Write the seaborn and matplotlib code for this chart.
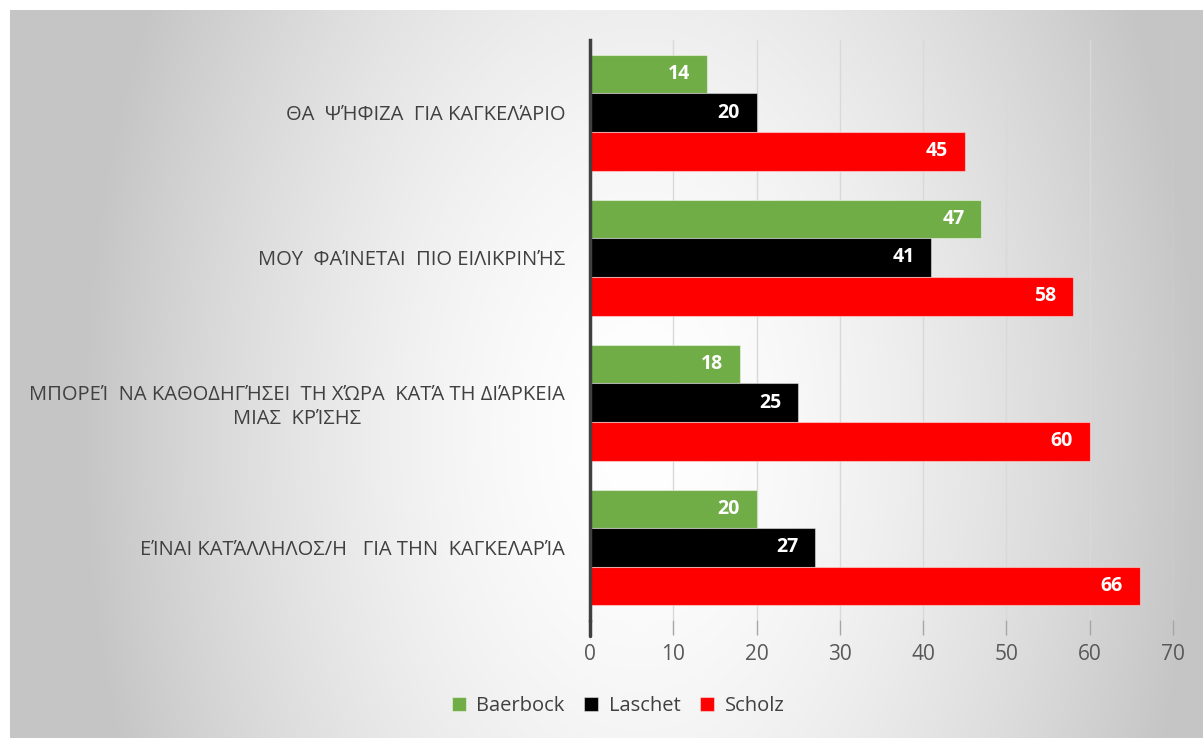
import numpy as np
import pandas as pd
import matplotlib
matplotlib.use("Agg")
import matplotlib.pyplot as plt
import seaborn as sns

categories = [
    "ΘΑ  ΨΉΦΙΖΑ  ΓΙΑ ΚΑΓΚΕΛΆΡΙΟ",
    "ΜΟΥ  ΦΑΊΝΕΤΑΙ  ΠΙΟ ΕΙΛΙΚΡΙΝΉΣ",
    "ΜΠΟΡΕΊ  ΝΑ ΚΑΘΟΔΗΓΉΣΕΙ  ΤΗ ΧΏΡΑ  ΚΑΤΆ ΤΗ ΔΙΆΡΚΕΙΑ\nΜΙΑΣ  ΚΡΊΣΗΣ",
    "ΕΊΝΑΙ ΚΑΤΆΛΛΗΛΟΣ/Η   ΓΙΑ ΤΗΝ  ΚΑΓΚΕΛΑΡΊΑ",
]
candidates = ["Baerbock", "Laschet", "Scholz"]
baerbock = [14, 47, 18, 20]
laschet = [20, 41, 25, 27]
scholz = [45, 58, 60, 66]
x_ticks = [0, 10, 20, 30, 40, 50, 60, 70]
colors = ["#70AD47", "#000000", "#FF0000"]

rows = []
for name, vals in zip(candidates, [baerbock, laschet, scholz]):
    for c, v in zip(categories, vals):
        rows.append({"cat": c, "val": v, "cand": name})
df = pd.DataFrame(rows)

sns.set_theme(style="white")
plt.rcParams["font.family"] = ["Open Sans", "DejaVu Sans"]

W, H = 1203, 738
fig = plt.figure(figsize=(W / 100, H / 100), dpi=100)
fig.patch.set_facecolor("white")

# radial gradient background
bg = fig.add_axes([0, 0, 1, 1], zorder=0)
yy, xx = np.mgrid[0:H, 0:W]
r = np.hypot((xx - 640) / 560.0, (yy - 430) / 900.0)
v = 255 - 58 * np.clip(r, 0, 1) ** 1.6
img = np.dstack([v, v, v]) / 255.0
img[:10, :] = 1
img[:, :10] = 1
bg.imshow(img, aspect="auto", interpolation="bilinear")
bg.axis("off")

ax = fig.add_axes([590 / W, 118 / H, 583 / W, 580 / H], zorder=1)
ax.patch.set_alpha(0)

sns.barplot(data=df, y="cat", x="val", hue="cand", palette=colors,
            orient="h", width=0.8, saturation=1, ax=ax,
            edgecolor=(1, 1, 1, 0.45), linewidth=0.8)

for cont in ax.containers:
    for bar in cont:
        val = bar.get_width()
        ax.annotate(f"{val:g}", xy=(val, bar.get_y() + bar.get_height() / 2),
                    xytext=(-12, 0), textcoords="offset points",
                    ha="right", va="center", color="white",
                    fontweight="bold", fontsize=14)

ax.set_xlim(0, 70)
ax.set_ylim(3.5, -0.5)
ax.set_xticks(x_ticks)
ax.set_xlabel("")
ax.set_ylabel("")
ax.grid(axis="x", color="#d9d9d9", linewidth=1)
ax.set_axisbelow(True)
for s in ["top", "right", "bottom"]:
    ax.spines[s].set_visible(False)
ax.spines["left"].set_color("#404040")
ax.spines["left"].set_linewidth(2.5)
ax.axvline(0, ymin=-0.027, ymax=0, color="#404040", lw=2.5, clip_on=False)

ax.tick_params(axis="x", bottom=True, length=11, width=1, color="#a6a6a6",
               labelsize=15, labelcolor="#595959", pad=6)
ax.tick_params(axis="y", left=False, length=0, pad=18, labelsize=14.5,
               labelcolor="#404040")
for lab in ax.get_yticklabels():
    lab.set_multialignment("center")
    lab.set_linespacing(1.3)

sns.move_legend(ax, "center", bbox_to_anchor=(0.048, -0.148), ncol=3,
                frameon=False, title=None, fontsize=14.5, handlelength=0.7,
                handleheight=0.7, columnspacing=1.0, handletextpad=0.5)
for t in ax.get_legend().get_texts():
    t.set_color("#404040")

fig.savefig("out.png", dpi=100)
